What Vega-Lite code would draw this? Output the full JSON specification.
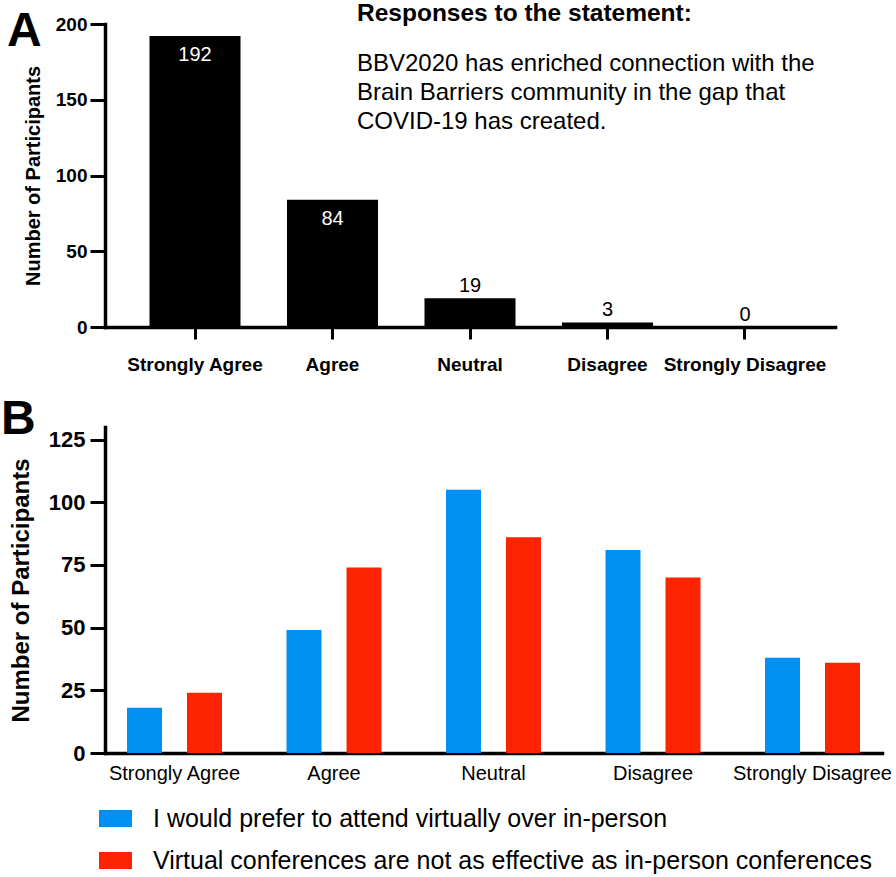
{
  "$schema": "https://vega.github.io/schema/vega-lite/v6.json",
  "background": "white",
  "padding": {"left": 1, "top": 0, "right": 0, "bottom": 0},
  "spacing": 21,
  "config": {
    "font": "Liberation Sans",
    "view": {"stroke": null},
    "axis": {
      "domainColor": "black",
      "tickColor": "black",
      "labelColor": "black",
      "titleColor": "black",
      "grid": false,
      "domainWidth": 3.5,
      "tickWidth": 3,
      "domainCap": "square",
      "zindex": 1,
      "labelOverlap": false
    }
  },
  "vconcat": [
    {
      "width": 730,
      "height": 303,
      "data": {
        "values": [
          {"response": "Strongly Agree", "count": 192},
          {"response": "Agree", "count": 84},
          {"response": "Neutral", "count": 19},
          {"response": "Disagree", "count": 3},
          {"response": "Strongly Disagree", "count": 0}
        ]
      },
      "layer": [
        {
          "mark": {"type": "bar", "color": "black"},
          "encoding": {
            "x": {
              "field": "response",
              "type": "nominal",
              "sort": null,
              "scale": {"paddingInner": 0.338, "paddingOuter": 0.3236},
              "axis": {
                "title": null,
                "labelAngle": 0,
                "labelFontSize": 19,
                "labelFontWeight": "bold",
                "tickSize": 12,
                "labelPadding": 16
              }
            },
            "y": {
              "field": "count",
              "type": "quantitative",
              "scale": {"domain": [0, 200]},
              "axis": {
                "values": [0, 50, 100, 150, 200],
                "title": "Number of Participants",
                "titleFontSize": 20,
                "titleFontWeight": "bold",
                "titlePadding": 12,
                "labelFontSize": 19,
                "labelFontWeight": "bold",
                "tickSize": 15,
                "labelPadding": 3
              }
            }
          }
        },
        {
          "transform": [{"filter": "datum.count >= 50"}],
          "mark": {"type": "text", "color": "white", "baseline": "top", "dy": 9, "fontSize": 20},
          "encoding": {
            "x": {"field": "response", "type": "nominal", "sort": null},
            "y": {"field": "count", "type": "quantitative"},
            "text": {"field": "count", "type": "quantitative"}
          }
        },
        {
          "transform": [{"filter": "datum.count < 50"}],
          "mark": {"type": "text", "color": "black", "baseline": "alphabetic", "dy": -6, "fontSize": 20},
          "encoding": {
            "x": {"field": "response", "type": "nominal", "sort": null},
            "y": {"field": "count", "type": "quantitative"},
            "text": {"field": "count", "type": "quantitative"}
          }
        },
        {
          "data": {"values": [{}]},
          "mark": {"type": "text", "text": "A", "fontSize": 48, "fontWeight": "bold", "align": "left", "baseline": "alphabetic", "dx": -188, "dy": 22, "color": "black"},
          "encoding": {"x": {"datum": "Strongly Agree"}, "y": {"datum": 200}}
        },
        {
          "data": {"values": [{}]},
          "mark": {"type": "text", "text": "Responses to the statement:", "fontSize": 24.5, "fontWeight": "bold", "align": "left", "baseline": "alphabetic", "dx": 24.5, "color": "black"},
          "encoding": {"x": {"datum": "Agree"}, "y": {"datum": 202}}
        },
        {
          "data": {"values": [{}]},
          "mark": {
            "type": "text",
            "text": ["BBV2020 has enriched connection with the", "Brain Barriers community in the gap that", "COVID-19 has created."],
            "fontSize": 24,
            "lineHeight": 29,
            "align": "left",
            "baseline": "alphabetic",
            "dx": 24.5,
            "color": "black"
          },
          "encoding": {"x": {"datum": "Agree"}, "y": {"datum": 169}}
        }
      ]
    },
    {
      "width": 777,
      "height": 326,
      "data": {
        "values": [
          {"response": "Strongly Agree", "statement": "I would prefer to attend virtually over in-person", "count": 18},
          {"response": "Strongly Agree", "statement": "Virtual conferences are not as effective as in-person conferences", "count": 24},
          {"response": "Agree", "statement": "I would prefer to attend virtually over in-person", "count": 49},
          {"response": "Agree", "statement": "Virtual conferences are not as effective as in-person conferences", "count": 74},
          {"response": "Neutral", "statement": "I would prefer to attend virtually over in-person", "count": 105},
          {"response": "Neutral", "statement": "Virtual conferences are not as effective as in-person conferences", "count": 86},
          {"response": "Disagree", "statement": "I would prefer to attend virtually over in-person", "count": 81},
          {"response": "Disagree", "statement": "Virtual conferences are not as effective as in-person conferences", "count": 70},
          {"response": "Strongly Disagree", "statement": "I would prefer to attend virtually over in-person", "count": 38},
          {"response": "Strongly Disagree", "statement": "Virtual conferences are not as effective as in-person conferences", "count": 36}
        ]
      },
      "layer": [
        {
          "mark": {"type": "bar"},
          "encoding": {
            "x": {
              "field": "response",
              "type": "nominal",
              "sort": null,
              "scale": {"paddingInner": 0.4044, "paddingOuter": 0.138},
              "axis": {
                "title": null,
                "labelAngle": 0,
                "ticks": false,
                "labelFontSize": 20,
                "labelPadding": 10
              }
            },
            "xOffset": {
              "field": "statement",
              "type": "nominal",
              "sort": null,
              "scale": {"paddingInner": 0.4167, "paddingOuter": 0}
            },
            "y": {
              "field": "count",
              "type": "quantitative",
              "scale": {"domain": [0, 125]},
              "axis": {
                "values": [0, 25, 50, 75, 100, 125],
                "title": "Number of Participants",
                "titleFontSize": 24,
                "titleFontWeight": "bold",
                "titlePadding": 15,
                "labelFontSize": 22,
                "labelFontWeight": "bold",
                "tickSize": 15,
                "labelPadding": 5
              }
            },
            "color": {
              "field": "statement",
              "type": "nominal",
              "sort": null,
              "scale": {"range": ["#0090F4", "#FB2300"]},
              "legend": {
                "orient": "none",
                "legendX": -6,
                "legendY": 778,
                "title": null,
                "padding": 0,
                "symbolType": "M-1,-0.515H1V0.515H-1Z",
                "symbolSize": 1089,
                "symbolStrokeWidth": 0,
                "labelFontSize": 25,
                "labelColor": "black",
                "labelOffset": 21,
                "rowPadding": 12,
                "labelLimit": 0
              }
            }
          }
        },
        {
          "data": {"values": [{}]},
          "mark": {"type": "text", "text": "B", "fontSize": 48, "fontWeight": "bold", "align": "left", "baseline": "alphabetic", "dx": -173.5, "dy": -6, "color": "black"},
          "encoding": {"x": {"datum": "Strongly Agree"}, "y": {"datum": 125}}
        }
      ]
    }
  ]
}
